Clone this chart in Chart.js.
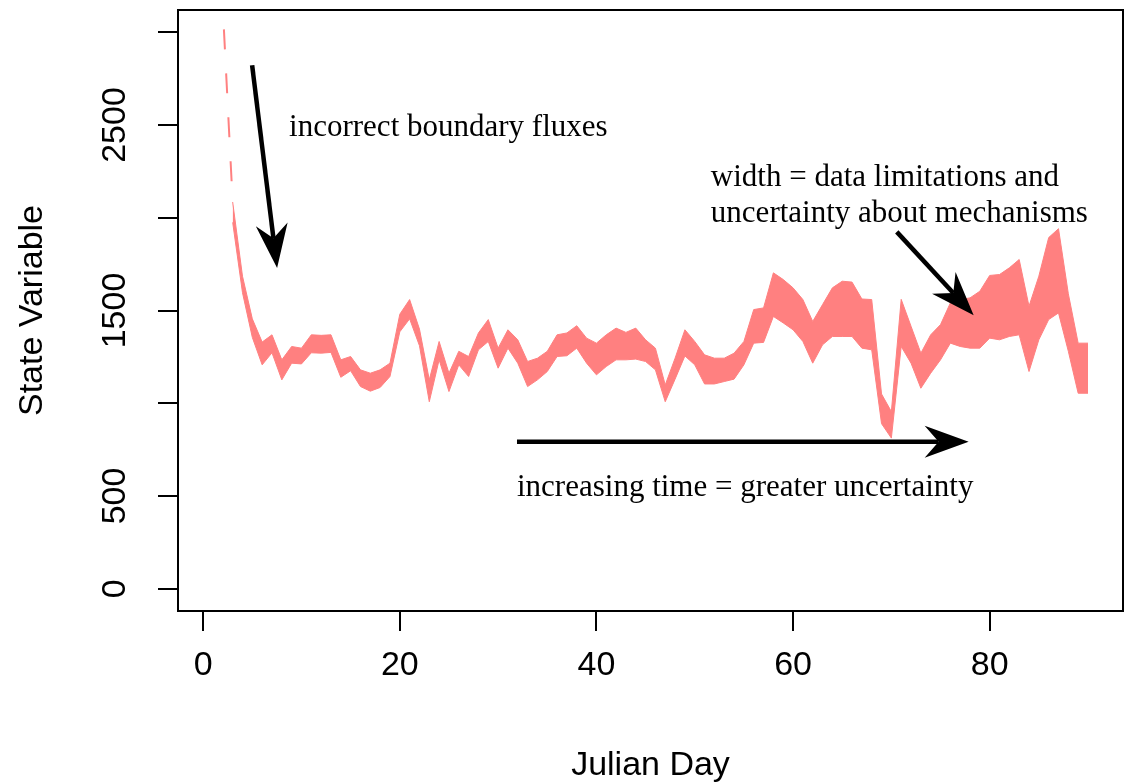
<!DOCTYPE html>
<html>
<head>
<meta charset="utf-8">
<script src="https://cdn.jsdelivr.net/npm/chart.js@4.4.0/dist/chart.umd.min.js"></script>
<style>
  html, body { margin: 0; padding: 0; background: #fff; }
  #wrap { width: 1124px; height: 784px; }
</style>
</head>
<body>
<div id="wrap"><canvas id="chart" width="1124" height="784"></canvas></div>
<script>
// Julian days of the uncertainty band
const days = [
   3,  4,  5,  6,  7,  8,  9, 10, 11, 12, 13, 14, 15, 16, 17, 18, 19, 20, 21, 22,
  23, 24, 25, 26, 27, 28, 29, 30, 31, 32, 33, 34, 35, 36, 37, 38, 39, 40, 41, 42,
  43, 44, 45, 46, 47, 48, 49, 50, 51, 52, 53, 54, 55, 56, 57, 58, 59, 60, 61, 62,
  63, 64, 65, 66, 67, 68, 69, 70, 71, 72, 73, 74, 75, 76, 77, 78, 79, 80, 81, 82,
  83, 84, 85, 86, 87, 88, 89, 90
];

// upper edge of the band
const upper = [
  2085, 1685, 1455, 1330, 1369, 1234, 1306, 1297, 1369, 1366, 1369, 1234, 1252, 1180, 1162, 1180, 1216, 1480, 1559, 1400,
  1126, 1333, 1162, 1280, 1252, 1379, 1451, 1297, 1396, 1342, 1225, 1243, 1280, 1369, 1379, 1418, 1351, 1324, 1369, 1405,
  1382, 1405, 1342, 1297, 1099, 1243, 1396, 1333, 1261, 1243, 1243, 1270, 1333, 1505, 1514, 1703, 1667, 1622, 1559, 1441,
  1532, 1622, 1658, 1653, 1562, 1559, 1050,  955, 1560, 1415, 1270, 1369, 1424, 1541, 1559, 1568, 1604, 1689, 1694, 1730,
  1775, 1523, 1685, 1893, 1941, 1590, 1324, 1324
];

// lower edge of the band
const lower = [
  1975, 1596, 1355, 1207, 1272, 1126, 1216, 1212, 1272, 1270, 1274, 1140, 1175, 1090, 1065, 1085, 1144, 1385, 1455, 1310,
  1008, 1234, 1063, 1207, 1144, 1288, 1333, 1189, 1297, 1216, 1090, 1126, 1171, 1252, 1256, 1297, 1216, 1153, 1198, 1234,
  1234, 1238, 1225, 1180, 1008, 1130, 1255, 1207, 1104, 1104, 1117, 1130, 1207, 1324, 1328, 1468, 1433, 1396, 1333, 1216,
  1315, 1360, 1360, 1360, 1297, 1288,  890,  812, 1306, 1216, 1081, 1162, 1234, 1324, 1306, 1297, 1297, 1351, 1342, 1360,
  1369, 1171, 1342, 1451, 1487, 1280, 1054, 1054
];

// dashed run-in before the band starts
const dashDays = [1, 2, 3];
const dashValues = [4200, 3130, 2085];

// axis ticks
const xTicks = [0, 20, 40, 60, 80];
const yTicks = [0, 500, 1000, 1500, 2000, 2500, 3000];
const yTickLabels = ['0', '500', '', '1500', '', '2500', ''];

// annotations, in data units
const arrows = [
  { from: [4.98, 2822], to: [7.52, 1729] },
  { from: [70.55, 1924], to: [78.37, 1475] },
  { from: [31.92, 793], to: [77.86, 793] }
];
const notes = [
  { at: [8.74, 2486], text: 'incorrect boundary fluxes' },
  { at: [51.64, 2216], text: 'width = data limitations and' },
  { at: [51.64, 2021], text: 'uncertainty about mechanisms' },
  { at: [31.92, 544], text: 'increasing time = greater uncertainty' }
];

const bandColor = 'rgb(255,128,128)';
const axisFont = { family: '"Liberation Sans", Arial, sans-serif', size: 34, lineHeight: 1.2 };
const noteFont = '31px "Liberation Serif", "Times New Roman", serif';

function drawArrow(ctx, x1, y1, x2, y2) {
  const ang = Math.atan2(y2 - y1, x2 - x1);
  const len = 44, half = 16, notch = 30;
  const cos = Math.cos(ang), sin = Math.sin(ang);
  ctx.save();
  ctx.strokeStyle = '#000';
  ctx.fillStyle = '#000';
  ctx.lineWidth = 4.5;
  ctx.beginPath();
  ctx.moveTo(x1, y1);
  ctx.lineTo(x2 - notch * cos, y2 - notch * sin);
  ctx.stroke();
  ctx.beginPath();
  ctx.moveTo(x2, y2);
  ctx.lineTo(x2 - len * cos - half * sin, y2 - len * sin + half * cos);
  ctx.lineTo(x2 - notch * cos, y2 - notch * sin);
  ctx.lineTo(x2 - len * cos + half * sin, y2 - len * sin - half * cos);
  ctx.closePath();
  ctx.fill();
  ctx.restore();
}

const boxAndNotes = {
  id: 'boxAndNotes',
  afterDatasetsDraw(chart) {
    const { ctx, chartArea: a, scales: { x, y } } = chart;
    ctx.save();
    ctx.strokeStyle = '#000';
    ctx.lineWidth = 2;
    ctx.strokeRect(a.left, a.top, a.right - a.left, a.bottom - a.top);

    arrows.forEach(ar => {
      drawArrow(ctx,
        x.getPixelForValue(ar.from[0]), y.getPixelForValue(ar.from[1]),
        x.getPixelForValue(ar.to[0]), y.getPixelForValue(ar.to[1]));
    });

    ctx.fillStyle = '#000';
    ctx.font = noteFont;
    ctx.textAlign = 'left';
    ctx.textBaseline = 'middle';
    notes.forEach(n => {
      ctx.fillText(n.text, x.getPixelForValue(n.at[0]), y.getPixelForValue(n.at[1]));
    });
    ctx.restore();
  }
};

new Chart(document.getElementById('chart'), {
  type: 'line',
  data: {
    datasets: [
      {
        label: 'upper',
        data: days.map((d, i) => ({ x: d, y: upper[i] })),
        borderColor: bandColor,
        backgroundColor: bandColor,
        borderWidth: 1,
        pointRadius: 0,
        tension: 0,
        fill: '+1'
      },
      {
        label: 'lower',
        data: days.map((d, i) => ({ x: d, y: lower[i] })),
        borderColor: bandColor,
        borderWidth: 1,
        pointRadius: 0,
        tension: 0,
        fill: false
      },
      {
        label: 'run-in',
        data: dashDays.map((d, i) => ({ x: d, y: dashValues[i] })),
        borderColor: bandColor,
        borderWidth: 2,
        borderDash: [20, 24],
        pointRadius: 0,
        tension: 0,
        fill: false
      }
    ]
  },
  options: {
    responsive: false,
    animation: false,
    events: [],
    layout: { padding: { top: 10, right: 1, left: 0, bottom: 0 } },
    plugins: {
      legend: { display: false },
      tooltip: { enabled: false }
    },
    scales: {
      x: {
        type: 'linear',
        min: -2.56,
        max: 93.56,
        afterBuildTicks: s => { s.ticks = xTicks.map(v => ({ value: v })); },
        afterFit: s => { s.height = 173; s.paddingLeft = 0; s.paddingRight = 0; },
        border: { display: false },
        grid: { drawOnChartArea: false, drawTicks: true, tickLength: 20, color: '#000', lineWidth: 2 },
        ticks: { color: '#000', font: axisFont, padding: 14, maxRotation: 0, autoSkip: false },
        title: { display: true, text: 'Julian Day', color: '#000', font: axisFont, padding: { top: 0, bottom: -2 } }
      },
      y: {
        type: 'linear',
        min: -120,
        max: 3120,
        afterBuildTicks: s => { s.ticks = yTicks.map(v => ({ value: v })); },
        afterFit: s => { s.width = 178; s.paddingTop = 0; s.paddingBottom = 0; },
        border: { display: false },
        grid: { drawOnChartArea: false, drawTicks: true, tickLength: 20, color: '#000', lineWidth: 2 },
        ticks: {
          color: '#000',
          font: axisFont,
          padding: 5,
          autoSkip: false,
          minRotation: 90,
          maxRotation: 90,
          crossAlign: 'center',
          callback: (v, i) => yTickLabels[i]
        },
        title: { display: true, text: 'State Variable', color: '#000', font: axisFont, padding: { top: 12, bottom: 0 } }
      }
    }
  },
  plugins: [boxAndNotes]
});
</script>
</body>
</html>
